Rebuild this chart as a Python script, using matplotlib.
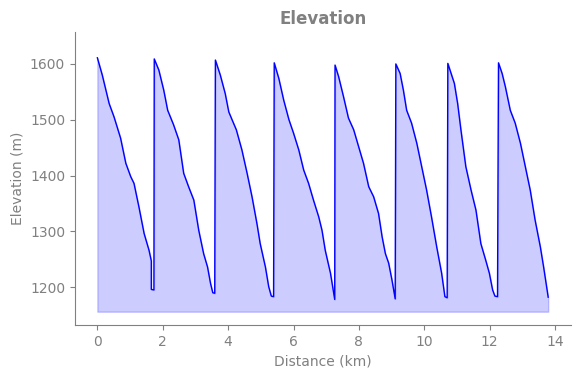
import matplotlib
matplotlib.use('Agg')
import matplotlib.pyplot as plt

# distance (km) and elevation (m)
distance = [
    0.00, 0.15, 0.36, 0.51, 0.71, 0.87, 1.02, 1.12, 1.27, 1.43, 1.58, 1.65, 1.65, 1.73,
    1.74, 1.88, 2.03, 2.15, 2.33, 2.49, 2.64, 2.79, 2.95, 3.10, 3.25, 3.37, 3.46, 3.53, 3.59,
    3.61, 3.76, 3.91, 4.02, 4.12, 4.25, 4.42, 4.58, 4.73, 4.88, 4.98, 5.14, 5.24, 5.32, 5.39,
    5.41, 5.55, 5.70, 5.86, 6.00, 6.16, 6.31, 6.46, 6.61, 6.77, 6.87, 6.97, 7.13, 7.26,
    7.27, 7.38, 7.53, 7.68, 7.84, 7.99, 8.14, 8.30, 8.45, 8.60, 8.71, 8.81, 8.91, 9.01, 9.11,
    9.13, 9.26, 9.36, 9.46, 9.61, 9.77, 9.92, 10.07, 10.22, 10.38, 10.53, 10.63, 10.70,
    10.72, 10.82, 10.92, 11.02, 11.12, 11.27, 11.43, 11.58, 11.73, 11.88, 11.99, 12.09, 12.16, 12.24,
    12.27, 12.38, 12.48, 12.63, 12.78, 12.94, 13.09, 13.24, 13.39, 13.55, 13.65, 13.79,
]
elevation = [
    1611, 1580, 1529, 1505, 1467, 1422, 1398, 1386, 1344, 1296, 1266, 1247, 1196, 1195,
    1609, 1589, 1553, 1517, 1491, 1464, 1404, 1380, 1356, 1302, 1260, 1236, 1207, 1190, 1189,
    1607, 1580, 1547, 1514, 1500, 1482, 1446, 1404, 1362, 1314, 1278, 1236, 1201, 1184, 1183,
    1602, 1574, 1535, 1500, 1476, 1446, 1410, 1386, 1356, 1326, 1302, 1266, 1225, 1178,
    1598, 1577, 1541, 1503, 1482, 1452, 1422, 1380, 1362, 1332, 1290, 1260, 1243, 1213, 1179,
    1600, 1583, 1553, 1517, 1494, 1458, 1416, 1374, 1326, 1272, 1225, 1183, 1181,
    1601, 1583, 1565, 1529, 1482, 1416, 1374, 1338, 1278, 1248, 1225, 1195, 1184, 1183,
    1602, 1583, 1559, 1517, 1494, 1458, 1416, 1374, 1320, 1272, 1236, 1182,
]

grey = '#808080'

fig, ax = plt.subplots(figsize=(5.8, 3.78), dpi=100)
fig.subplots_adjust(left=0.129, right=0.984, bottom=0.140, top=0.915)

ax.plot(distance, elevation, color='blue', linewidth=1)
ax.fill_between(distance, elevation, min(elevation) - 22, color='blue', alpha=0.2)

ax.set_ylim(1132, 1657)
ax.set_title('Elevation', color=grey, fontweight='bold', fontsize=12)
ax.set_xlabel('Distance (km)', color=grey)
ax.set_ylabel('Elevation (m)', color=grey)

ax.spines['top'].set_visible(False)
ax.spines['right'].set_visible(False)
ax.spines['left'].set_color(grey)
ax.spines['bottom'].set_color(grey)
ax.tick_params(colors=grey)

plt.savefig('out.png')
